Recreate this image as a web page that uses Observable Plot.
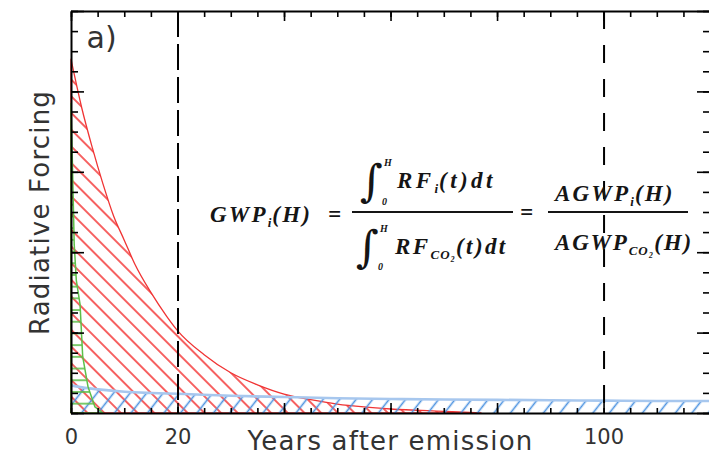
<!DOCTYPE html>
<html><head><meta charset="utf-8">
<script src="https://cdn.jsdelivr.net/npm/d3@7"></script>
<script src="https://cdn.jsdelivr.net/npm/@observablehq/plot@0.6"></script>
<style>body{margin:0;background:#fff;} svg{display:block;}</style>
</head><body><div id="chart"></div>
<script>
// ---- data ----
const redYears    = [0, 2, 4, 6, 8, 10, 12, 15, 18, 20, 25, 30, 35, 40, 45, 50, 55, 60, 70, 77];
const redForcing  = [0.88, 0.76, 0.66, 0.57, 0.49, 0.43, 0.37, 0.30, 0.24, 0.205, 0.145, 0.10, 0.07, 0.047, 0.033, 0.022, 0.015, 0.010, 0.004, 0];
const greenYears   = [0, 0.3, 0.6, 1, 1.7, 2.2, 3.2, 4.5, 6];
const greenForcing = [0.77, 0.6, 0.42, 0.33, 0.27, 0.14, 0.065, 0.015, 0];
const blueYears   = [0, 2, 5, 10, 15, 20, 30, 40, 50, 60, 70, 80, 90, 100, 110, 120];
const blueForcing = [0.07, 0.065, 0.06, 0.054, 0.051, 0.049, 0.044, 0.041, 0.038, 0.036, 0.035, 0.034, 0.033, 0.032, 0.031, 0.031];
const xTickLabels = [0, 20, 100];
const horizons = [20, 100];
const xLabel = "Years after emission";
const yLabel = "Radiative Forcing";
const panelLabel = "a)";

const red = redYears.map((t, i) => ({t, v: redForcing[i]}));
const green = greenYears.map((t, i) => ({t, v: greenForcing[i]}));
const blue = blueYears.map((t, i) => ({t, v: blueForcing[i]}));

const xMinor = d3.range(0, 121, 5);
const xMajor = d3.range(0, 121, 20);
const yMinor = d3.range(0, 1.0001, 0.05);
const yMajor = d3.range(0, 1.0001, 0.2);

const labelFont = "'DejaVu Sans', sans-serif";
const eqFont = "'Liberation Serif', 'DejaVu Serif', serif";

function equation(index, scales) {
  const x0 = scales.x(26.1), y0 = scales.y(0.5);
  const g = d3.create("svg:g").attr("fill", "#151515").attr("text-anchor", "start")
    .attr("font-family", eqFont).attr("font-style", "italic").attr("font-weight", "bold");
  function txt(dx, dy, parts, spacing = 2.2) {
    const t = g.append("text").attr("x", x0 + dx).attr("y", y0 + dy)
      .attr("font-size", 23).attr("letter-spacing", spacing);
    let shift = 0;
    for (const [s, sub] of parts) {
      const ts = t.append("tspan").text(s);
      const target = sub ? 5 : 0;
      ts.attr("dy", target - shift);
      if (sub) ts.attr("font-size", 13).attr("letter-spacing", 1);
      shift = target;
    }
  }
  function integral(dx, dy, ul, ll) {
    g.append("text").attr("x", x0 + dx).attr("y", y0 + dy).attr("font-size", 44)
      .attr("font-family", "'DejaVu Serif', serif").attr("font-style", "normal").attr("font-weight", "normal")
      .text("∫");
    g.append("text").attr("x", x0 + ul[0]).attr("y", y0 + ul[1]).attr("font-size", 10).text("H");
    g.append("text").attr("x", x0 + ll[0]).attr("y", y0 + ll[1]).attr("font-size", 10).text("0");
  }
  // GWP_i(H) =
  txt(0, 10, [["GWP"], ["i", true], ["(H)  ="]]);
  // first fraction
  integral(150, -16, [174, -46], [172, -7]);
  txt(187, -24, [["RF"], ["i", true], ["(t)dt"]], 3.4);
  g.append("line").attr("x1", x0 + 142).attr("x2", x0 + 303).attr("y1", y0).attr("y2", y0)
    .attr("stroke", "#151515").attr("stroke-width", 2);
  integral(146, 50, [170, 20], [168, 58]);
  txt(185, 42, [["RF"], ["CO₂", true], ["(t)dt"]], 2.4);
  // = AGWP ratio
  txt(310, 8, [["="]]);
  txt(345, -11, [["AGWP"], ["i", true], ["(H)"]]);
  g.append("line").attr("x1", x0 + 338).attr("x2", x0 + 478).attr("y1", y0).attr("y2", y0)
    .attr("stroke", "#151515").attr("stroke-width", 2);
  txt(345, 38, [["AGWP"], ["CO₂", true], ["(H)"]], 1.8);
  return g.node();
}

const tickStyle = {stroke: "black", strokeWidth: 1.6, tickFormat: () => "", label: null};

const svg = Plot.plot({
  width: 709,
  height: 457,
  marginLeft: 71,
  marginRight: 0,
  marginTop: 11,
  marginBottom: 44,
  x: {domain: [0, 119.8]},
  y: {domain: [0, 1]},
  style: {background: "white", overflow: "hidden"},
  marks: [
    Plot.areaY(red, {x: "t", y: "v", fill: "url(#hatchRed)", stroke: "#f03434", strokeWidth: 1.3, curve: "monotone-x"}),
    Plot.areaY(blue, {x: "t", y: "v", fill: "url(#hatchBlue)", curve: "monotone-x"}),
    Plot.lineY(blue, {x: "t", y: "v", stroke: "#a7c7ee", strokeWidth: 2.6, curve: "monotone-x"}),
    Plot.areaY(green, {x: "t", y: "v", fill: "url(#hatchGreen)", stroke: "#5dbf48", strokeWidth: 1.5}),
    Plot.ruleX([horizons[0]], {stroke: "black", strokeWidth: 2, strokeDasharray: "26,7"}),
    Plot.ruleX([horizons[1]], {stroke: "black", strokeWidth: 2, strokeDasharray: "18,16"}),
    // frame
    Plot.ruleY([0, 1], {stroke: "black", strokeWidth: 2}),
    Plot.ruleX([0], {stroke: "black", strokeWidth: 2}),
    // ticks (inward)
    Plot.axisX(xMinor, {anchor: "bottom", tickSize: -5, ...tickStyle}),
    Plot.axisX(xMajor, {anchor: "bottom", tickSize: -10, ...tickStyle}),
    Plot.axisX(xMinor, {anchor: "top", tickSize: -5, ...tickStyle}),
    Plot.axisX(xMajor, {anchor: "top", tickSize: -9, ...tickStyle}),
    Plot.axisY(yMinor, {anchor: "left", tickSize: -7, ...tickStyle}),
    Plot.axisY(yMajor, {anchor: "left", tickSize: -13, ...tickStyle}),
    Plot.axisY(yMinor, {anchor: "right", tickSize: -7, ...tickStyle}),
    Plot.axisY(yMajor, {anchor: "right", tickSize: -13, ...tickStyle}),
    // tick labels
    Plot.axisX(xTickLabels, {anchor: "bottom", tickSize: 0, tickPadding: 16, fontSize: 21, fill: "#333",
      fontFamily: labelFont, label: null, tickFormat: d => String(d)}),
    Plot.text([xLabel], {frameAnchor: "bottom", dy: 28, fontSize: 26, fill: "#333", fontFamily: labelFont,
      lineAnchor: "middle", textAnchor: "middle"}),
    Plot.text([yLabel], {frameAnchor: "left", dx: -31, rotate: -90, fontSize: 26, fill: "#333", fontFamily: labelFont,
      lineAnchor: "middle", textAnchor: "middle"}),
    Plot.text([panelLabel], {frameAnchor: "top-left", dx: 15, dy: 36, fontSize: 30, fill: "#333", fontFamily: labelFont,
      textAnchor: "start", lineAnchor: "bottom"}),
    equation
  ]
});

// slightly wider letter spacing for the axis titles, as in the reference lettering
d3.select(svg).selectAll("text")
  .filter(function () { return this.textContent === xLabel || this.textContent === yLabel; })
  .attr("letter-spacing", 1.2);

const defs = d3.select(svg).insert("defs", ":first-child");
function hatch(id, color, angle, spacing, width) {
  const p = defs.append("pattern").attr("id", id).attr("patternUnits", "userSpaceOnUse")
    .attr("width", spacing).attr("height", spacing).attr("patternTransform", `rotate(${angle})`);
  p.append("line").attr("x1", spacing / 2).attr("x2", spacing / 2).attr("y1", -1).attr("y2", spacing + 1)
    .attr("stroke", color).attr("stroke-width", width);
}
hatch("hatchRed", "#f43c3c", -45, 11.8, 1.6);
hatch("hatchBlue", "#4d93e0", 38, 13, 1.6);
hatch("hatchGreen", "#5dbf48", 90, 11.7, 1.6);

document.getElementById("chart").appendChild(svg);
</script>
</body></html>
